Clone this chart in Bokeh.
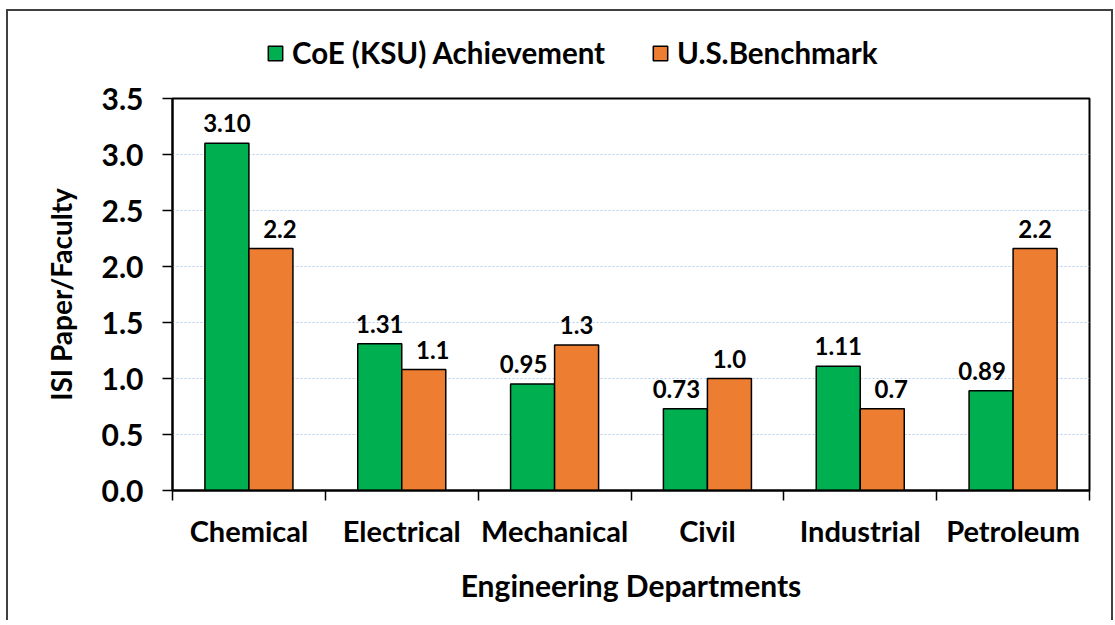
from bokeh.plotting import figure
from bokeh.layouts import column
from bokeh.models import (ColumnDataSource, FixedTicker, NumeralTickFormatter, Legend,
                          LegendItem, Range1d)
from bokeh.core.properties import value
from bokeh.embed import file_html
from bokeh.resources import INLINE

# ---- data ----
departments = ["Chemical", "Electrical", "Mechanical", "Civil", "Industrial", "Petroleum"]
ksu_values = [3.10, 1.31, 0.95, 0.73, 1.11, 0.89]
us_values = [2.16, 1.08, 1.30, 1.00, 0.73, 2.16]
ksu_labels = ["3.10", "1.31", "0.95", "0.73", "1.11", "0.89"]
us_labels = ["2.2", "1.1", "1.3", "1.0", "0.7", "2.2"]
y_ticks = [0.0, 0.5, 1.0, 1.5, 2.0, 2.5, 3.0, 3.5]
series_names = ["CoE (KSU) Achievement", "U.S.Benchmark"]

# ---- style ----
FONT = "Lato"
GREEN = "#00B050"
ORANGE = "#ED7D31"
BAR_W = 0.288

n = len(departments)
centers = [i + 0.5 for i in range(n)]
green_x = [c - BAR_W / 2 for c in centers]
orange_x = [c + BAR_W / 2 for c in centers]
green_off = [-9 if k < u else 0 for k, u in zip(ksu_values, us_values)]
orange_off = [9 if u < k else 0 for k, u in zip(ksu_values, us_values)]

src_g = ColumnDataSource(dict(x=green_x, top=ksu_values, text=ksu_labels, xo=green_off))
src_o = ColumnDataSource(dict(x=orange_x, top=us_values, text=us_labels, xo=orange_off))

# ---- legend strip (separate figure so the legend is not clipped) ----
# proxy renderers carry only the styling: their bar tops are undefined, so no bar is drawn
nan = float("nan")
proxy_g = ColumnDataSource(dict(x=green_x, top=[nan] * n))
proxy_o = ColumnDataSource(dict(x=orange_x, top=[nan] * n))
lg = figure(width=1103, height=65, x_range=Range1d(0, n), y_range=Range1d(0, 1),
            output_backend="svg", toolbar_location=None,
            x_axis_location=None, y_axis_location=None,
            min_border_left=0, min_border_right=0, min_border_top=0, min_border_bottom=0)
lg.grid.visible = False
lg.outline_line_color = None
lg1 = lg.vbar(x="x", top="top", width=BAR_W, source=proxy_g, fill_color=GREEN,
              line_color="black", line_width=1.5)
lg2 = lg.vbar(x="x", top="top", width=BAR_W, source=proxy_o, fill_color=ORANGE,
              line_color="black", line_width=1.5)
legend = Legend(items=[LegendItem(label=series_names[0], renderers=[lg1]),
                       LegendItem(label=series_names[1], renderers=[lg2])],
                orientation="horizontal", location=(94, 6),
                border_line_color=None, background_fill_alpha=0,
                label_text_font=FONT, label_text_font_style="bold",
                label_text_font_size="29.5px", label_text_color="black",
                glyph_width=18, glyph_height=18, label_standoff=8, spacing=46,
                padding=0, margin=0)
lg.add_layout(legend, "center")

# ---- main chart ----
p = figure(width=1103, height=544,
           x_range=Range1d(0, n), y_range=Range1d(0, 3.5),
           output_backend="svg", toolbar_location=None,
           min_border_left=164, min_border_top=22, min_border_right=22, min_border_bottom=130)

p.outline_line_color = "black"
p.outline_line_width = 2

r1 = p.vbar(x="x", top="top", width=BAR_W, source=src_g, fill_color=GREEN,
            line_color="black", line_width=1.5)
r2 = p.vbar(x="x", top="top", width=BAR_W, source=src_o, fill_color=ORANGE,
            line_color="black", line_width=1.5)

for src in (src_g, src_o):
    p.text(x="x", y="top", text="text", x_offset="xo", y_offset=-20, source=src,
           text_align="center", text_baseline="alphabetic", text_color="black",
           text_font=value(FONT), text_font_style="bold", text_font_size="24px")

# axes
p.xaxis.ticker = FixedTicker(ticks=centers, minor_ticks=list(range(n + 1)))
p.xaxis.major_label_overrides = {c: d for c, d in zip(centers, departments)}
p.xaxis.major_tick_line_color = None
p.xaxis.major_tick_out = 0
p.xaxis.major_tick_in = 0
p.xaxis.minor_tick_out = 10
p.xaxis.minor_tick_in = 0
p.xaxis.minor_tick_line_color = "black"
p.xaxis.minor_tick_line_width = 1.5
p.xaxis.major_label_standoff = 12
p.xaxis.axis_label = "Engineering Departments"
p.xaxis.axis_label_standoff = 16

p.yaxis.ticker = FixedTicker(ticks=y_ticks)
p.yaxis.formatter = NumeralTickFormatter(format="0.0")
p.yaxis.major_tick_out = 10
p.yaxis.major_tick_in = 0
p.yaxis.major_tick_line_color = "black"
p.yaxis.minor_tick_line_color = None
p.yaxis.major_tick_line_width = 1.5
p.yaxis.major_label_standoff = 19
p.yaxis.axis_label = "ISI Paper/Faculty"
p.yaxis.axis_label_standoff = 21

for ax in (p.xaxis, p.yaxis):
    ax.axis_line_color = "black"
    ax.axis_line_width = 2
    ax.major_label_text_font = FONT
    ax.major_label_text_font_style = "bold"
    ax.major_label_text_color = "black"
    ax.axis_label_text_font = FONT
    ax.axis_label_text_font_style = "bold"
    ax.axis_label_text_color = "black"
p.xaxis.major_label_text_font_size = "29px"
p.yaxis.major_label_text_font_size = "30px"
p.xaxis.axis_label_text_font_size = "30px"
p.yaxis.axis_label_text_font_size = "28px"

p.xgrid.visible = False
p.ygrid.ticker = FixedTicker(ticks=y_ticks[1:-1])
p.ygrid.grid_line_color = "#B4CBEA"
p.ygrid.grid_line_dash = "2 2"
p.ygrid.grid_line_width = 1

layout = column(lg, p, spacing=0)
layout.styles = {"margin-left": "6px", "margin-top": "9px",
                 "border-top": "2px solid #404040", "border-left": "2px solid #404040",
                 "border-right": "2px solid #404040"}

open("out.html", "w").write(file_html(layout, INLINE))
